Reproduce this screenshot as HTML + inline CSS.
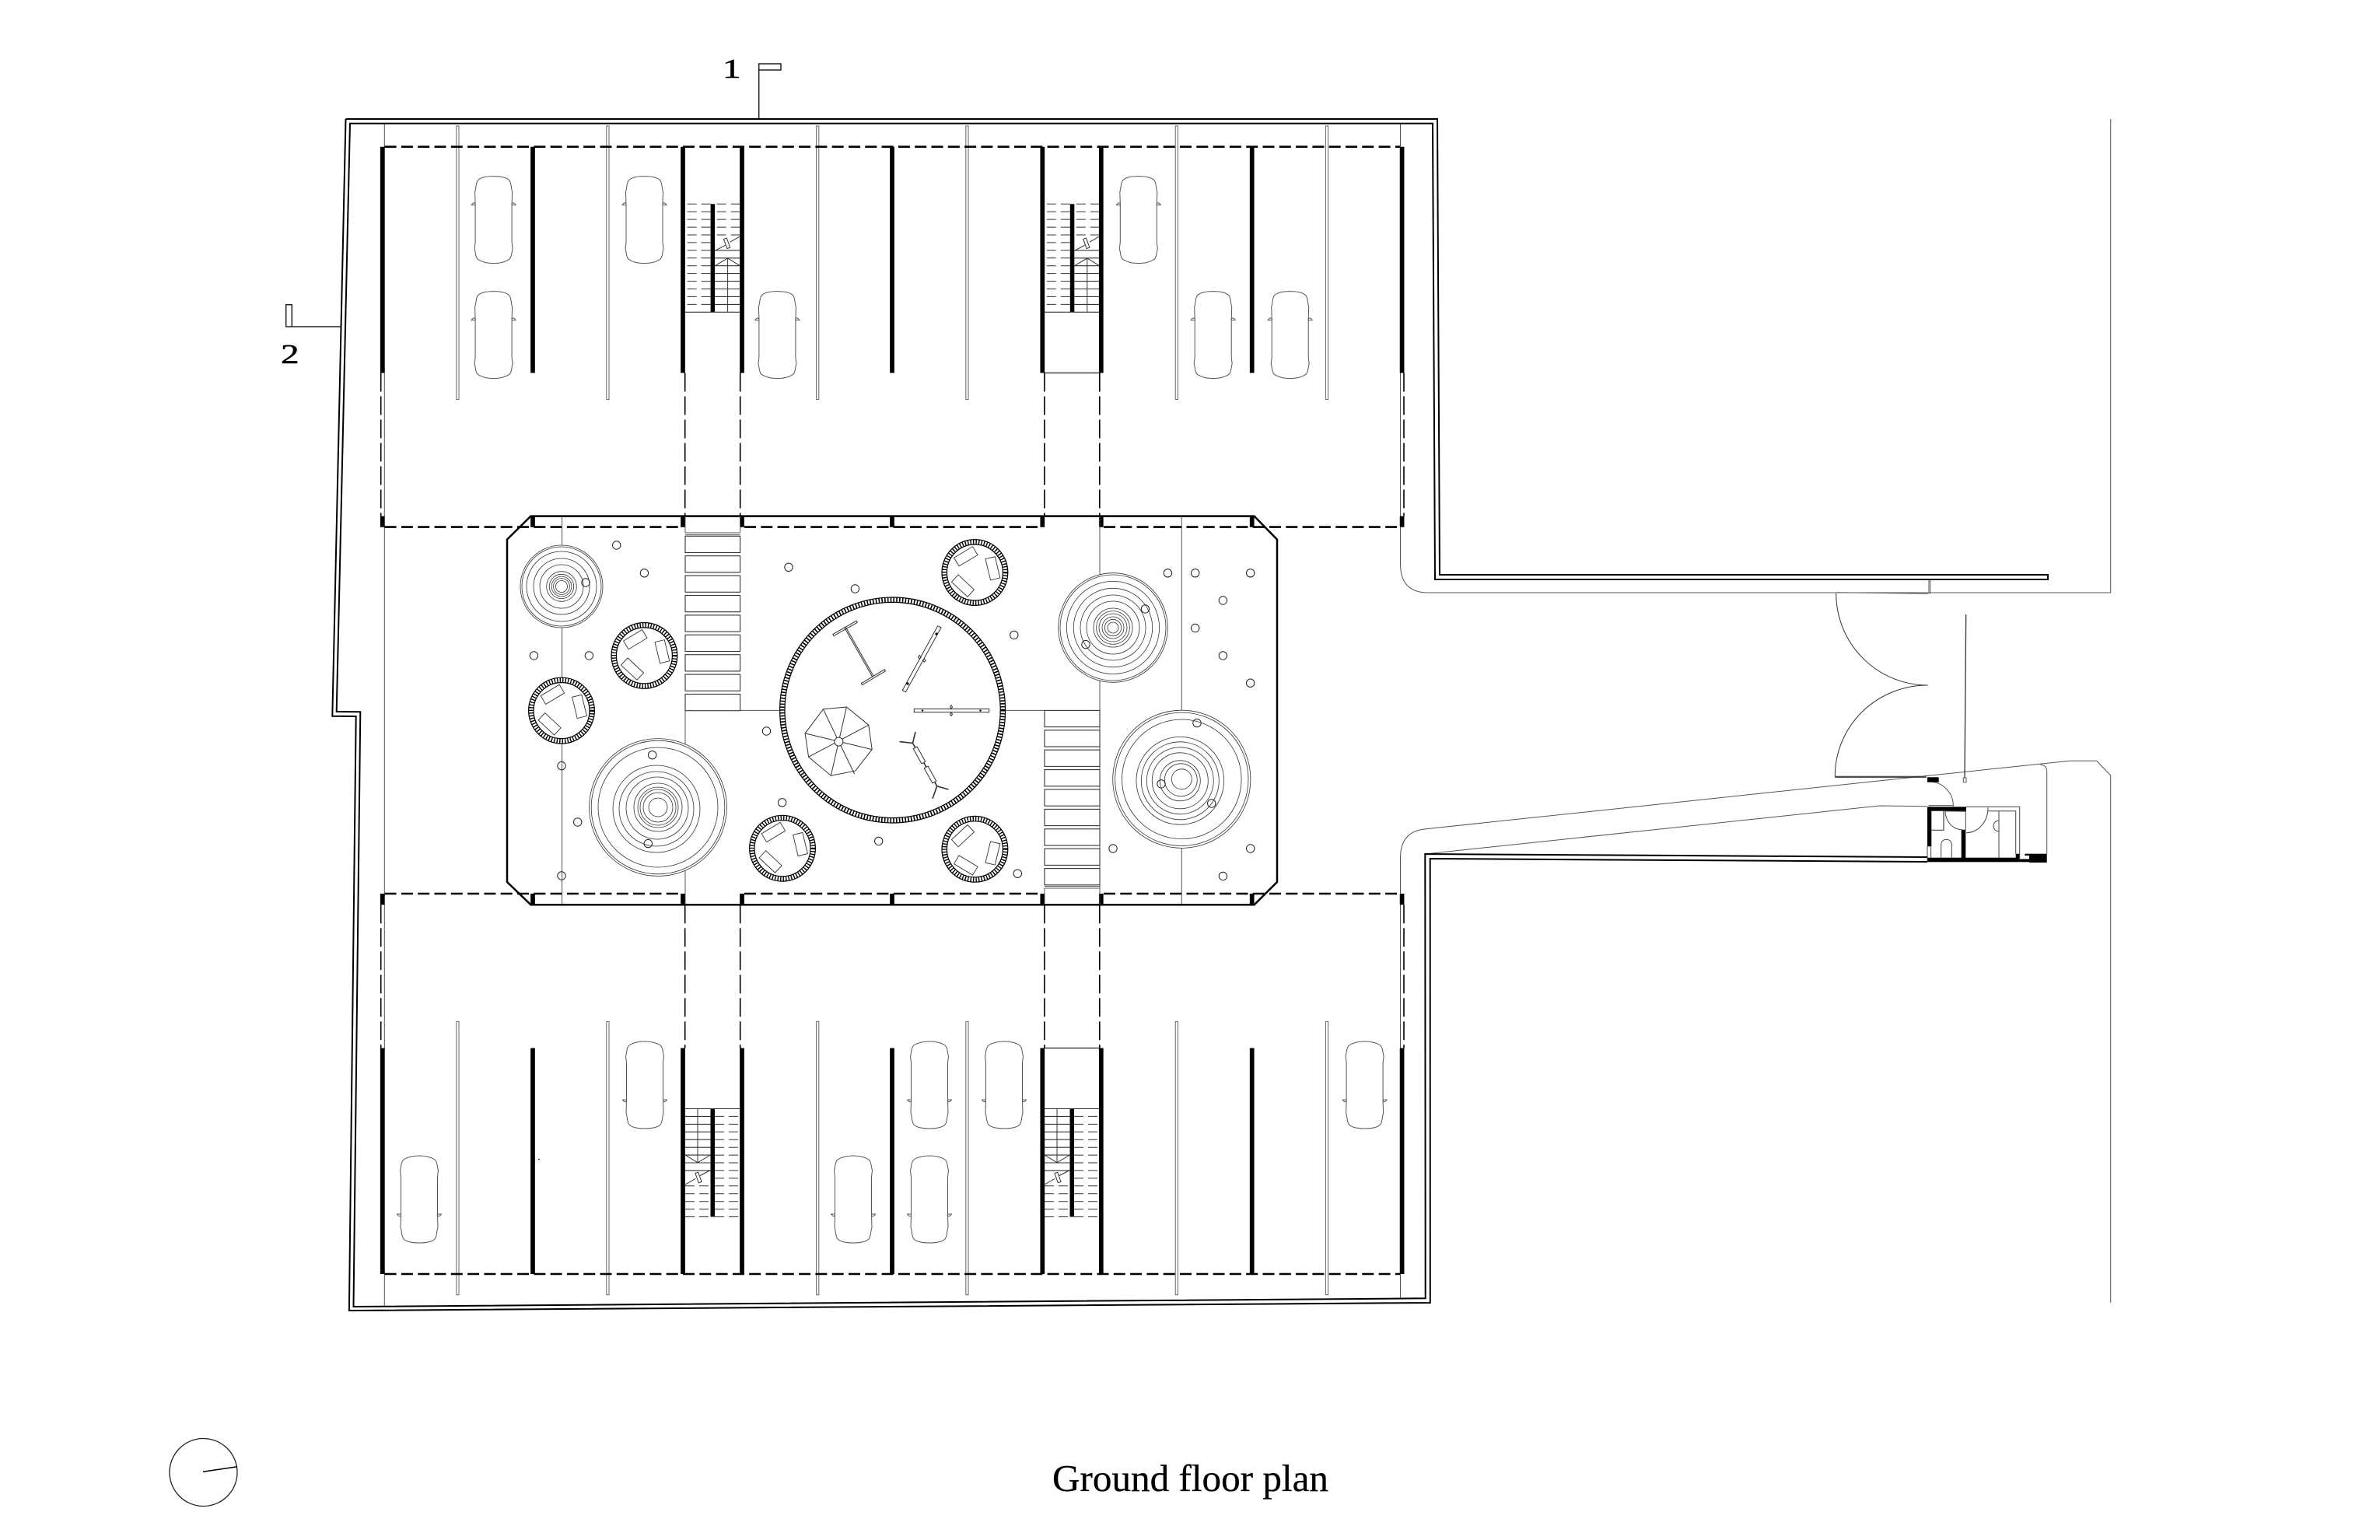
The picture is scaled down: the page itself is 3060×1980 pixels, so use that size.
<!DOCTYPE html>
<html><head><meta charset="utf-8"><title>Ground floor plan</title>
<style>html,body{margin:0;padding:0;background:#fff}svg{display:block}</style></head>
<body>
<svg xmlns="http://www.w3.org/2000/svg" width="3060" height="1980" viewBox="0 0 3060 1980">
<defs>
<g id="car" fill="none" stroke="#555" stroke-width="1">
<path d="M0,0C8,0 16,1 20,5C23,8 22,14 24,20L23.5,36L23.5,85L24.5,93C23,98 23.5,104 20,107C14,111 7,112 0,112C-7,112 -14,111 -20,107C-23.5,104 -23,98 -24.5,93L-23.5,85L-23.5,36L-24,20C-22,14 -23,8 -20,5C-16,1 -8,0 0,0Z"/>
<path d="M23.5,37V35Q26,33 28.5,37H23.5M-23.5,37V35Q-26,33 -28.5,37H-23.5"/>
</g>
<g id="st" fill="none" stroke="#333" stroke-width="1">
<rect x="32.5" y="0" width="5.5" height="139" fill="#000" stroke="none"/>
<path d="M16,0V69.3M0,59.5L16,69.3L32.5,59.5"/>
<path d="M0,97.5L13,90M19,86L32.5,79"/>
<rect x="15" y="82" width="4" height="13" fill="#fff" transform="rotate(-20 17 88.5)"/>
<path d="M0,0H70.6M0,9.9H32.5M0,19.9H32.5M0,29.8H32.5M0,39.7H32.5M0,49.7H32.5M0,59.6H32.5M0,69.5H32.5M0,79.4H32.5" stroke-width="1.1"/>
<g stroke-dasharray="12 6">
<path d="M38,9.9H70.6M38,19.9H70.6M38,29.8H70.6M38,39.7H70.6M38,49.7H70.6M38,59.6H70.6M38,69.5H70.6M38,79.4H70.6M38,89.4H70.6M38,99.3H70.6M38,109.2H70.6M38,119.2H70.6M38,129.1H70.6M38,139H70.6"/>
<path d="M0,99.3H32.5M0,109.2H32.5M0,119.2H32.5M0,129.1H32.5M0,139H32.5"/>
</g>
</g>
<g id="pit">
<circle r="42.4" fill="#fff" stroke="#000" stroke-width="1.2"/>
<circle r="39.2" fill="none" stroke="#000" stroke-width="6" stroke-dasharray="1.4 2.1"/>
<circle r="36" fill="#fff" stroke="#000" stroke-width="1.2"/>
<g fill="#fff" stroke="#333" stroke-width="0.9">
<rect x="-14" y="-6.3" width="28" height="12.6" transform="translate(-11.6,-20.7) rotate(-31)"/>
<rect x="-14" y="-6.3" width="28" height="12.6" transform="translate(23,-5.2) rotate(76.5)"/>
<rect x="-14" y="-6.3" width="28" height="12.6" transform="translate(-15.4,17.2) rotate(43)"/>
</g>
</g>
</defs>
<rect width="3060" height="1980" fill="#fff"/>

<!-- section markers -->
<g font-family="'Liberation Serif',serif" fill="#000" stroke="#000" stroke-width="0.5" font-size="35">
<text transform="translate(929,100) scale(1.35,1)">1</text>
<text transform="translate(361,467) scale(1.35,1)">2</text>
</g>
<path d="M975.7,153V82H1004V90H975.7" fill="none" stroke="#222" stroke-width="1.5"/>
<path d="M438,420H375.3V391.7H367.7V420H375.3" fill="none" stroke="#222" stroke-width="1.5"/>

<!-- thin grid/road lines -->
<g fill="none" stroke="#555" stroke-width="1">
<path d="M494.3,158.7V1680"/>
<path d="M1800.5,158.7V725Q1800.5,762 1836,762H2713.7V153"/>
<path d="M1800.5,1669V1103Q1800.5,1068 1834,1065.7L2476,997.6L2661,978.3H2695.7L2713.7,997V1675"/>
<path d="M1832.3,1098L2416.7,1036L2478,1036.7"/>
<path d="M2480,744V763.3M2481.7,744V763.3M2360.7,761.7L2479,763.3"/>
<path d="M2360.7,763A118,118 0 0 0 2478.7,881A119,117 0 0 0 2359.3,998.3H2476.7M2359.3,999.4H2476.7" stroke="#333"/>
<path d="M2527.7,790L2526,1000" stroke="#333" stroke-width="1.3"/>
<rect x="2524.3" y="1000" width="3.7" height="5.7" fill="#fff"/>
<path d="M2480,1005A31,31 0 0 1 2511.3,1036.7M2479.5,1035.6H2511.3"/>
<path d="M2631.7,1097.7V991.7Q2631.7,984 2623.3,983.3" stroke="#555"/>
</g>

<!-- walls -->
<g fill="none" stroke="#000" stroke-width="2" stroke-linejoin="miter">
<path d="M444.5,153H1848L1851,739H2633V745H1845L1842,158.7H450L432.7,915L463.3,915.3L454.5,1680L1832.7,1669.3L1832.3,1098L2478,1102"/>
<path d="M444.5,153L427.3,920.7L457.7,921L448.9,1685L1838.8,1675L1838.7,1104L2478,1108"/>
</g>

<!-- columns (double thin) -->
<g fill="#fff" stroke="#666" stroke-width="1">
<rect x="586.8" y="162" width="3.2" height="351.5"/><rect x="779.8" y="162" width="3.2" height="351.5"/><rect x="1049.6" y="162" width="3.2" height="351.5"/><rect x="1241.8" y="162" width="3.2" height="351.5"/><rect x="1511.2" y="162" width="3.2" height="351.5"/><rect x="1704.4" y="162" width="3.2" height="351.5"/>
<rect x="586.8" y="1313.4" width="3.2" height="351.3"/><rect x="779.8" y="1313.4" width="3.2" height="351.3"/><rect x="1049.6" y="1313.4" width="3.2" height="351.3"/><rect x="1241.8" y="1313.4" width="3.2" height="351.3"/><rect x="1511.2" y="1313.4" width="3.2" height="351.3"/><rect x="1704.4" y="1313.4" width="3.2" height="351.3"/>
</g>

<!-- cars -->
<use href="#car" transform="translate(634.6,226.6)"/><use href="#car" transform="translate(634.6,374.6)"/>
<use href="#car" transform="translate(828.5,226.6)"/><use href="#car" transform="translate(999.4,374.6)"/>
<use href="#car" transform="translate(1463.8,226.6)"/><use href="#car" transform="translate(1559.7,374.6)"/><use href="#car" transform="translate(1658.7,374.6)"/>
<use href="#car" transform="translate(829,1451) scale(1,-1)"/><use href="#car" transform="translate(539,1598) scale(1,-1)"/><use href="#car" transform="translate(1097,1598) scale(1,-1)"/>
<use href="#car" transform="translate(1195,1451) scale(1,-1)"/><use href="#car" transform="translate(1195,1598) scale(1,-1)"/><use href="#car" transform="translate(1291,1451) scale(1,-1)"/><use href="#car" transform="translate(1754.6,1451) scale(1,-1)"/>
<circle cx="693" cy="1490.6" r="0.8" fill="#000"/>

<!-- stairs -->
<use href="#st" transform="translate(881,1425.5)"/>
<use href="#st" transform="translate(1343,1425.5)"/>
<use href="#st" transform="translate(951.6,401.3) rotate(180)"/>
<use href="#st" transform="translate(1413.8,401.3) rotate(180)"/>

<!-- thick walls -->
<g stroke="#000" stroke-width="5.7" fill="none">
<path d="M491.7,188.7V479.5M685,188.7V479.5M878,188.7V479.5M954,188.7V479.5M1147,188.7V479.5M1340.3,188.7V479.5M1415.8,188.7V479.5M1609.7,188.7V479.5M1802.6,188.7V479.5"/>
<path d="M491.7,1347.5V1638M685,1347.5V1638M878,1347.5V1638M954,1347.5V1638M1147,1347.5V1638M1340.3,1347.5V1638M1415.8,1347.5V1638M1609.7,1347.5V1638M1802.6,1347.5V1638"/>
<path d="M491.7,663.6V677.7M685,663.6V677.7M878,663.6V677.7M954,663.6V677.7M1147,663.6V677.7M1340.3,663.6V677.7M1415.8,663.6V677.7M1609.7,663.6V677.7M1802.6,663.6V677.7"/>
<path d="M491.7,1149V1163.2M685,1149V1163.2M878,1149V1163.2M954,1149V1163.2M1147,1149V1163.2M1340.3,1149V1163.2M1415.8,1149V1163.2M1609.7,1149V1163.2M1802.6,1149V1163.2"/>
</g>
<!-- dashed -->
<g stroke="#000" stroke-width="2.6" fill="none" stroke-dasharray="15 6.3">
<path d="M494.6,188.7H1800M494.6,1638H1800"/>
<path d="M494.6,677.6H875M957,677.6H1337M1419,677.6H1800"/>
<path d="M494.6,1149H875M957,1149H1337M1419,1149H1800"/>
</g>
<g stroke="#000" stroke-width="1.6" fill="none" stroke-dasharray="24 6">
<path d="M489.7,479.5V663.6M880.7,479.5V663.6M951.7,479.5V663.6M1342.9,479.5V663.6M1413.8,479.5V663.6M1805,479.5V663.6"/>
<path d="M489.7,1163.2V1347.5M880.7,1163.2V1347.5M951.7,1163.2V1347.5M1342.9,1163.2V1347.5M1413.8,1163.2V1347.5M1805,1163.2V1347.5"/>
</g>
<path d="M1342.9,479.5H1413.8M1342.9,1347.5H1413.8" stroke="#222" stroke-width="1.2"/>

<!-- courtyard -->
<path d="M682.4,663.6H1612.6L1642,693.6V1134L1612.6,1163.2H682.4L652,1134V693.6Z" fill="none" stroke="#000" stroke-width="2.5"/>
<g fill="none" stroke="#555" stroke-width="1">
<path d="M722.6,664V1162M1519.3,664V1162M881,913V1163M1414,664V1163M881,913.4H1343M951.6,664V685M881,664V685M1343,1142V1163"/>
<path d="M881,685H951.6M881,687.6H951.6M1343,1142H1414M1343,1139.5H1414"/>
</g>
<g fill="#fff" stroke="#333" stroke-width="1.1">
<rect x="881" y="689.3" width="70.6" height="21.2"/><rect x="881" y="714.7" width="70.6" height="21.2"/><rect x="881" y="740.1" width="70.6" height="21.2"/><rect x="881" y="765.5" width="70.6" height="21.2"/><rect x="881" y="790.9" width="70.6" height="21.2"/><rect x="881" y="816.3" width="70.6" height="21.2"/><rect x="881" y="841.7" width="70.6" height="21.2"/><rect x="881" y="867.1" width="70.6" height="21.2"/><rect x="881" y="892.5" width="70.6" height="21.2"/>
<rect x="1343" y="913.4" width="71" height="21.2"/><rect x="1343" y="938.8" width="71" height="21.2"/><rect x="1343" y="964.2" width="71" height="21.2"/><rect x="1343" y="989.6" width="71" height="21.2"/><rect x="1343" y="1015" width="71" height="21.2"/><rect x="1343" y="1040.4" width="71" height="21.2"/><rect x="1343" y="1065.8" width="71" height="21.2"/><rect x="1343" y="1091.2" width="71" height="21.2"/><rect x="1343" y="1116.6" width="71" height="21.2"/>
</g>

<!-- concentric planters -->
<g fill="none" stroke="#333" stroke-width="0.8">
<g transform="translate(722,754)">
<circle r="53" fill="#fff"/><circle r="51"/><circle r="45"/><circle r="36"/><circle r="28"/><circle r="19.3"/><circle r="15.7"/><circle r="12.9"/><circle r="10.4"/><circle r="7.5"/>
</g>
<g transform="translate(846,1038)">
<circle r="88.4" fill="#fff"/><circle r="85.8"/><circle r="77"/><circle r="56" cx="-2" cy="2"/><circle r="48" cx="-2" cy="2"/><circle r="40" cx="-1" cy="1"/><circle r="31"/><circle r="26"/><circle r="23"/><circle r="19"/><circle r="12"/>
</g>
<g transform="translate(1431,807)">
<circle r="70.3" fill="#fff"/><circle r="68"/><circle r="59.6"/><circle r="50.7"/><circle r="42"/><circle r="34"/><circle r="25"/><circle r="21.4"/><circle r="18"/><circle r="14"/><circle r="10.7"/><circle r="7"/>
</g>
<g transform="translate(1519.3,1001.8)">
<circle r="88.6" fill="#fff"/><circle r="85.7"/><circle r="76.8"/><circle r="56.4" cx="-2" cy="2"/><circle r="50" cx="-2" cy="2"/><circle r="43" cx="-2" cy="2"/><circle r="36" cx="-2" cy="2"/><circle r="26" cx="-2" cy="2"/><circle r="21" cx="-1" cy="1"/><circle r="13"/>
</g>
</g>

<!-- tree pits -->
<use href="#pit" transform="translate(828.4,842.9)"/>
<use href="#pit" transform="translate(722,913.6)"/>
<use href="#pit" transform="translate(1253.4,736)"/>
<use href="#pit" transform="translate(1006,1090.7)"/>
<use href="#pit" transform="translate(1253.4,1091.8) scale(1,-1)"/>

<!-- central play circle -->
<circle cx="1147.6" cy="913" r="145" fill="#fff" stroke="#000" stroke-width="1.2"/>
<circle cx="1147.6" cy="913" r="141.8" fill="none" stroke="#000" stroke-width="6" stroke-dasharray="1.6 2.2"/>
<circle cx="1147.6" cy="913" r="138.6" fill="#fff" stroke="#000" stroke-width="1.2"/>
<g fill="none" stroke="#333" stroke-width="1">
<path d="M1070.8,815.4L1101.2,798.2L1102.3,800.3L1071.9,817.5ZM1107.4,878.6L1137.3,860.7L1138.4,862.8L1108.5,880.7ZM1085.6,806.6L1121.6,870.1M1087.1,805.8L1123.1,869.3"/>
<path d="M1205.7,804.8L1210,806.9L1164.4,889.7L1160.2,887.6Z"/>
<path d="M1180.5,844.6l2,-2 1.5,3 -2,1.5zM1186.5,848.6l2,-1.5 1.5,2.5 -2,1.5z"/>
<rect x="1175.3" y="911.5" width="96.4" height="4.2"/>
<path d="M1223,906.8l1.5,2.2 -1.5,2.2 -1.5,-2.2zM1223,916l1.5,2.2 -1.5,2.2 -1.5,-2.2z"/>
<path d="M1058.4,911.8L1088.4,909L1116.8,932.2L1121.2,963.6L1099.8,991.1L1068.4,997.2L1039.6,973.2L1035.1,942.9Z"/>
<path d="M1058.4,911.8L1098.5,995M1088.4,909L1068.4,997.2M1116.8,932.2L1039.6,973.2M1121.2,963.6L1035.1,942.9"/>
<circle cx="1078.4" cy="953.6" r="5.5" fill="#fff"/>
<path d="M1177,941L1173.5,955.4L1156.5,953.6M1173.5,955.4L1204.7,1010.7M1219.5,1015L1204.7,1010.7L1199,1026.8" stroke-width="1.6"/>
<rect x="-2.8" y="-11" width="5.6" height="22" fill="#fff" transform="translate(1182,971) rotate(-29)"/>
<rect x="-2.8" y="-11" width="5.6" height="22" fill="#fff" transform="translate(1196,996) rotate(-29)"/>
</g>
<g fill="#000"><circle cx="1186" cy="913.6" r="1.2"/><circle cx="1260.5" cy="913.6" r="1.2"/><circle cx="1204" cy="815" r="1.6"/><circle cx="1167" cy="879" r="1.6"/></g>

<!-- small dots -->
<g fill="none" stroke="#222" stroke-width="1">
<circle cx="792.7" cy="701" r="5.2"/><circle cx="828.4" cy="736.8" r="5.2"/><circle cx="686.4" cy="842.9" r="5.2"/><circle cx="757.4" cy="842.9" r="5.2"/><circle cx="722" cy="984.6" r="5.2"/><circle cx="742.7" cy="1057" r="5.2"/><circle cx="722" cy="1126" r="5.2"/><circle cx="1014" cy="729.3" r="5.2"/><circle cx="1099.4" cy="757" r="5.2"/><circle cx="1303.8" cy="816.4" r="5.2"/><circle cx="985.5" cy="940" r="5.2"/><circle cx="1005.6" cy="1031.8" r="5.2"/><circle cx="1129.7" cy="1081.4" r="5.2"/><circle cx="1308.3" cy="1123.2" r="5.2"/>
<circle cx="1501.4" cy="736.8" r="5.2"/><circle cx="1536.7" cy="736.8" r="5.2"/><circle cx="1607.7" cy="736.8" r="5.2"/><circle cx="1572.4" cy="772" r="5.2"/><circle cx="1536.7" cy="807.5" r="5.2"/><circle cx="1572.4" cy="842.9" r="5.2"/><circle cx="1607.7" cy="878.2" r="5.2"/><circle cx="1431" cy="1091" r="5.2"/><circle cx="1607.7" cy="1091" r="5.2"/><circle cx="1572.4" cy="1126.4" r="5.2"/>
<circle cx="753" cy="749" r="5.2"/><circle cx="838.7" cy="970.7" r="5.2"/><circle cx="833.3" cy="1084.6" r="5.2"/><circle cx="1472.4" cy="782.9" r="5.2"/><circle cx="1396" cy="828.6" r="5.2"/><circle cx="1539" cy="929.6" r="5.2"/><circle cx="1493" cy="1007.9" r="5.2"/><circle cx="1557.7" cy="1033" r="5.2"/>
</g>

<!-- toilet block -->
<g fill="#000">
<rect x="2478" y="999.3" width="14.7" height="6.4"/>
<rect x="2479.3" y="1037.3" width="48.7" height="5.4"/>
<rect x="2478" y="1037.3" width="5.3" height="51"/>
<rect x="2478" y="1102.7" width="118.7" height="5.6"/>
<rect x="2596.7" y="1104.5" width="12.3" height="3.8"/>
<rect x="2521.7" y="1066.7" width="5.6" height="36.6"/>
<rect x="2591.7" y="1097.7" width="5" height="5.6"/>
<rect x="2609" y="1097.7" width="22.7" height="11.3"/>
<rect x="2603.3" y="1097.7" width="5.7" height="2.3"/>
</g>
<g fill="none" stroke="#444" stroke-width="1">
<path d="M2478,1088V1108M2482.6,1088V1103"/>
<path d="M2499,1042.7V1067.3H2483.3" stroke-width="1.2"/>
<path d="M2501,1042.7L2527.3,1043.3V1066.7M2501,1043A22,24 0 0 0 2522.7,1066.7"/>
<path d="M2495.7,1102.7V1086A6.8,6.8 0 0 1 2509.3,1086V1102.7"/>
<path d="M2528,1037.3H2596.7V1103.3M2556,1042.7H2591.7V1097.7M2570,1042.7V1103"/>
<path d="M2556,1038.3A28,32 0 0 1 2528,1070.7"/>
<path d="M2570,1055A7,7 0 0 0 2570,1069"/>
</g>

<!-- north -->
<circle cx="261.5" cy="1893" r="43.5" fill="none" stroke="#222" stroke-width="1.3"/>
<path d="M261,1892.3L305,1885.7" stroke="#000" stroke-width="1.5"/>

<text x="1353" y="1917" font-family="'Liberation Serif',serif" font-size="49" fill="#000" stroke="#000" stroke-width="0.3" textLength="355" lengthAdjust="spacingAndGlyphs">Ground floor plan</text>
</svg>
</body></html>
